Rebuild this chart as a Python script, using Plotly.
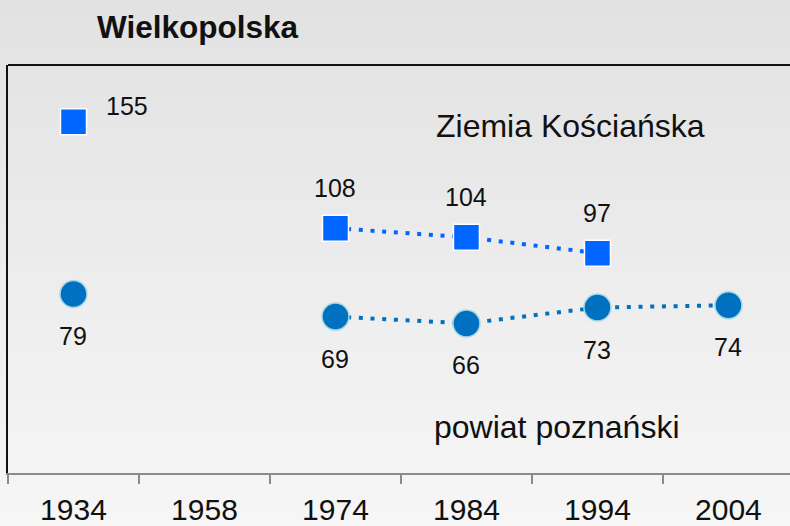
import plotly.graph_objects as go

years = ["1934", "1958", "1974", "1984", "1994", "2004"]
ziemia = [155, None, 108, 104, 97, None]
powiat = [79, None, 69, 66, 73, 74]

FONT = "Arial, Liberation Sans, sans-serif"
SQ_COLOR = "#0066ff"
CI_COLOR = "#0070c0"

fig = go.Figure()

# vertical grey gradient behind everything
n_bands = 60
top_rgb, bot_rgb = (226, 226, 226), (246, 246, 246)
y_lo, y_hi = -53 / 408, 1 + 65 / 408
for i in range(n_bands):
    t = i / (n_bands - 1)
    c = tuple(round(top_rgb[k] + (bot_rgb[k] - top_rgb[k]) * t) for k in range(3))
    y1 = y_hi - (y_hi - y_lo) * i / n_bands
    y0 = y_hi - (y_hi - y_lo) * (i + 1) / n_bands
    fig.add_shape(type="rect", xref="paper", yref="paper", x0=-0.02, x1=1.02,
                  y0=y0 - 0.002, y1=y1 + 0.002, line_width=0,
                  fillcolor="rgb(%d,%d,%d)" % c, layer="below")

fig.add_trace(go.Scatter(
    x=years, y=ziemia, mode="lines+markers", connectgaps=False,
    line=dict(color=SQ_COLOR, width=4, dash="4px,7.7px"),
    marker=dict(symbol="square", size=26, color=SQ_COLOR,
                line=dict(color="white", width=1.5)),
    showlegend=False, hoverinfo="x+y",
))
fig.add_trace(go.Scatter(
    x=years, y=powiat, mode="lines+markers", connectgaps=False,
    line=dict(color=CI_COLOR, width=4, dash="4px,7.7px"),
    marker=dict(symbol="circle", size=27, color=CI_COLOR,
                line=dict(color="#a9d9e3", width=1.5)),
    showlegend=False, hoverinfo="x+y",
))

# value labels (x given as category index so "1934" is not read as a number)
for i, v in enumerate(ziemia):
    if v is None:
        continue
    xs, ys = (54, 16) if i == 0 else (0, 40)
    fig.add_annotation(x=i, y=v, text=str(v), showarrow=False,
                       xshift=xs, yshift=ys, font=dict(size=25, color="#111"))
for i, v in enumerate(powiat):
    if v is None:
        continue
    fig.add_annotation(x=i, y=v, text=str(v), showarrow=False,
                       yshift=-42, font=dict(size=25, color="#111"))

fig.add_annotation(x=0.7187, y=0.8505, xref="paper", yref="paper",
                   xanchor="center", yanchor="middle",
                   text="Ziemia Kościańska", showarrow=False,
                   font=dict(size=32, color="#111"))
fig.add_annotation(x=0.7008, y=0.1127, xref="paper", yref="paper",
                   xanchor="center", yanchor="middle",
                   text="powiat poznański", showarrow=False,
                   font=dict(size=32, color="#111"))

# top border of the plot frame
fig.add_shape(type="line", xref="paper", yref="paper", x0=0, x1=1.02, y0=1, y1=1,
              line=dict(color="#111", width=2))

fig.update_layout(
    width=790, height=526,
    margin=dict(l=8, r=0, t=65, b=53),
    paper_bgcolor="#eeeeee", plot_bgcolor="rgba(0,0,0,0)",
    font=dict(family=FONT, color="#111"),
    title=dict(text="<b>Wielkopolska</b>", x=97 / 790, xanchor="left",
               y=1 - 27 / 526, yanchor="middle", font=dict(size=31.5, color="#111")),
    xaxis=dict(type="category", range=[-0.5, 5.47], tickson="boundaries",
               ticks="outside", ticklen=9, tickcolor="#8a8a8a", tickwidth=2,
               ticklabelstandoff=9, automargin=False,
               showline=True, linecolor="#8a8a8a", linewidth=2,
               showgrid=False, zeroline=False, tickfont=dict(size=30, color="#111")),
    yaxis=dict(range=[0, 180], showline=True, linecolor="#111", linewidth=2,
               automargin=False,
               showgrid=False, zeroline=False, showticklabels=False, ticks=""),
)

fig.write_html("out.html", config={"displayModeBar": False},
               post_script="document.body.style.margin = '0';")
